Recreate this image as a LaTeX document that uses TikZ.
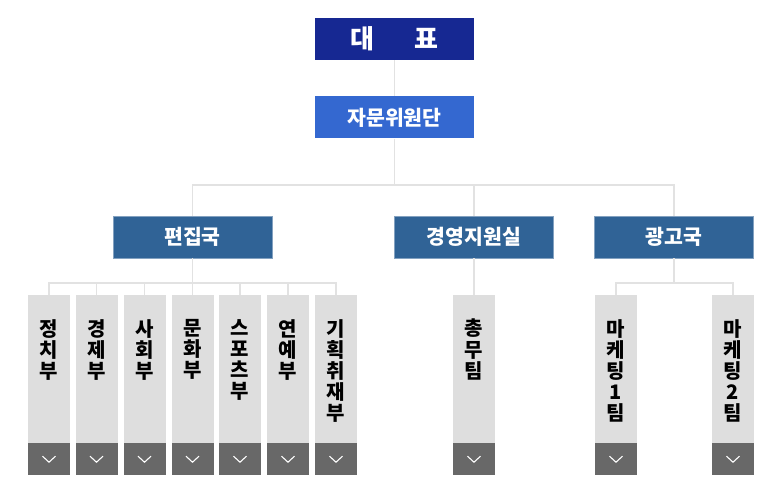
\documentclass[tikz,border=0pt]{standalone}
\usepackage{fontspec}
\newfontfamily\krfont{Noto Sans CJK KR}
\usepackage{tikz}
\usetikzlibrary{calc}
\definecolor{chiefblue}{RGB}{22,40,146}
\definecolor{advblue}{RGB}{52,104,208}
\definecolor{deptblue}{RGB}{48,99,150}
\definecolor{teamgray}{RGB}{222,222,222}
\definecolor{btngray}{RGB}{104,104,104}
\definecolor{linkgray}{RGB}{226,226,226}
\tikzset{
	orgbox/.style={rectangle,inner sep=0pt,minimum width=159pt,minimum height=42pt,text=white,font=\krfont\bfseries\fontsize{20.5}{24}\selectfont},
	chief/.style={orgbox,fill=chiefblue,font=\krfont\bfseries\fontsize{26}{28}\selectfont},
	advisory/.style={orgbox,fill=advblue},
	dept/.style={orgbox,fill=deptblue,draw=deptblue!60!white,line width=0.6pt},
	teambox/.style={rectangle,inner sep=0pt,minimum width=42pt,minimum height=148pt,fill=teamgray,anchor=north},
	teambtn/.style={rectangle,inner sep=0pt,minimum width=42pt,minimum height=32pt,fill=btngray,anchor=north},
	teamtext/.style={anchor=north,inner sep=0pt,align=center,font=\krfont\bfseries\fontsize{20}{21.2}\selectfont},
	link/.style={draw=linkgray,line width=1.6pt},
	chevron/.style={draw=white,line width=1.1pt}
}

\begin{document}
\begin{tikzpicture}[x=1pt,y=-1pt]
	\useasboundingbox (0,0) rectangle (780,500);
	% top levels
	\node[chief] (daepyo) at (394.5,39) {대\hspace{1.55em}표};
	\node[advisory] (jamun) at (394.5,117.5) {자문위원단};
	\node[dept] (pyeonjip) at (192.5,237) {편집국};
	\node[dept] (gyeongyeong) at (474,237) {경영지원실};
	\node[dept] (gwanggo) at (674,237) {광고국};
	\coordinate (bus) at (0,185);
	\coordinate (pbus) at (0,283);
	% lines between levels
	\draw[link] (daepyo)--(jamun);
	\draw[link] (jamun.south)--(jamun.south|-bus);
	\draw[link] (pyeonjip.north)--(pyeonjip.north|-bus)-|(gwanggo.north);
	\draw[link] (gyeongyeong.north)--(gyeongyeong.north|-bus);
	% teams
	\foreach \x/\name/\txt in {49/jeongchi/{정\\치\\부},96.5/gyeongje/{경\\제\\부},144.5/sahoe/{사\\회\\부},192.5/munhwa/{문\\화\\부},240/seupocheu/{스\\포\\츠\\부},288/yeonye/{연\\예\\부},336/gihoek/{기\\획\\취\\재\\부},474/chongmu/{총\\무\\팀},616/maketing1/{마\\케\\팅\\1\\팀},733/maketing2/{마\\케\\팅\\2\\팀}}{
		\node[teambox] (\name) at (\x,295) {};
		\node[teambtn] (\name-btn) at (\x,443) {};
		\node[teamtext] (\name-txt) at (\x,319) {\txt};
		\draw[chevron] ($(\name-btn.center)+(-6.5,-3)$)--($(\name-btn.center)+(0,3)$)--($(\name-btn.center)+(6.5,-3)$);
	}
	% lines to teams
	\draw[link] (pyeonjip.south)--(pyeonjip.south|-pbus);
	\draw[link] (jeongchi.north)--(jeongchi.north|-pbus)-|(gihoek.north);
	\foreach \name in {gyeongje,sahoe,munhwa,seupocheu,yeonye}
		\draw[link] (\name.north)--(\name.north|-pbus);
	\draw[link] (gyeongyeong.south)--(chongmu.north);
	\draw[link] (gwanggo.south)--(gwanggo.south|-pbus);
	\draw[link] (maketing1.north)--(maketing1.north|-pbus)-|(maketing2.north);
\end{tikzpicture}
\end{document}
